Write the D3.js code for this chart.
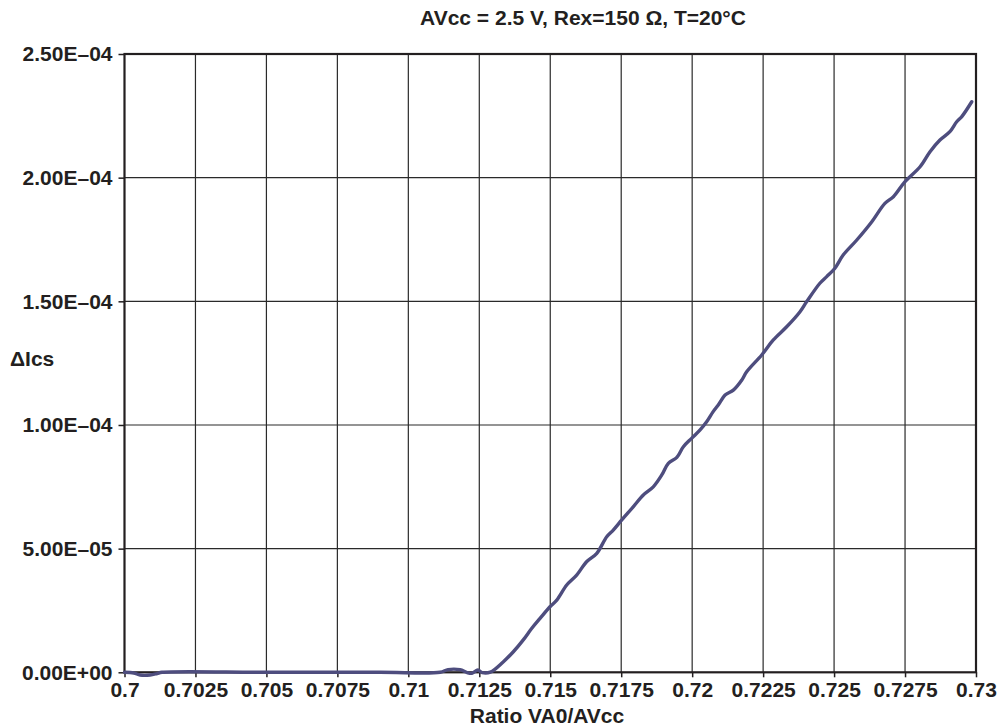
<!DOCTYPE html>
<html><head><meta charset="utf-8">
<script src="https://cdn.jsdelivr.net/npm/d3@7"></script>
<style>body{margin:0;background:#fff}svg{display:block}text{font-family:"Liberation Sans",Arial,sans-serif;font-weight:bold;fill:#231f20}</style>
</head><body><svg id="c" width="1003" height="728"></svg>
<script>
const titleText = "AVcc = 2.5 V, Rex=150 \u03A9, T=20\u00B0C";
const xLabel = "Ratio VA0/AVcc";
const yLabel = "\u0394Ics";
const xTicks = [0.7,0.7025,0.705,0.7075,0.71,0.7125,0.715,0.7175,0.72,0.7225,0.725,0.7275,0.73];
const xTickLabels = ["0.7","0.7025","0.705","0.7075","0.71","0.7125","0.715","0.7175","0.72","0.7225","0.725","0.7275","0.73"];
const yTicks = [0,5e-5,1e-4,1.5e-4,2e-4,2.5e-4];
const yTickLabels = ["0.00E+00","5.00E\u201305","1.00E\u201304","1.50E\u201304","2.00E\u201304","2.50E\u201304"];
const ratio = [0.7000,0.70033,0.70055,0.70090,0.70115,0.70132,0.7050,0.7090,0.71112,0.71140,0.71182,0.71207,0.71224,0.71245,0.71260,0.71289,
0.71335,0.71370,0.71405,0.71435,0.71464,0.71499,0.71523,0.71558,0.71593,0.71628,0.71664,0.71699,0.71722,0.71752,0.71793,0.71828,0.71863,0.71893,0.71916,0.71946,0.71969,0.71998,
0.72028,0.72051,0.72074,0.72092,0.72116,0.72145,0.72175,0.72192,0.72245,0.72286,0.72333,0.72380,0.72403,0.72450,0.72474,0.72503,0.72532,0.72580,0.72633,0.72679,0.72709,0.72750,
0.72803,0.72838,0.72873,0.72908,0.72932,0.72950,0.72985];
const dIcs = [0,-3e-7,-1.1e-6,-1.1e-6,-5e-7,0,0,0,0,1.1e-6,1.05e-6,-1e-7,-4e-7,9e-7,-1e-7,1e-7,
4.3e-6,8.3e-6,1.31e-5,1.78e-5,2.18e-5,2.65e-5,2.92e-5,3.53e-5,3.93e-5,4.47e-5,4.81e-5,5.48e-5,5.75e-5,6.16e-5,6.70e-5,7.17e-5,7.50e-5,7.98e-5,8.45e-5,8.69e-5,9.12e-5,9.46e-5,
9.80e-5,1.013e-4,1.054e-4,1.081e-4,1.121e-4,1.141e-4,1.182e-4,1.215e-4,1.283e-4,1.344e-4,1.397e-4,1.458e-4,1.498e-4,1.573e-4,1.600e-4,1.634e-4,1.687e-4,1.748e-4,1.822e-4,1.896e-4,1.923e-4,1.984e-4,
2.044e-4,2.105e-4,2.152e-4,2.186e-4,2.226e-4,2.247e-4,2.307e-4];

const L=124.5,R=976,T=54,B=672.3;
const FS=21;
const svg=d3.select("#c");
const x=d3.scaleLinear().domain([0.7,0.73]).range([L,R]);
const y=d3.scaleLinear().domain([0,2.5e-4]).range([B,T]);

// grid
svg.append("g").selectAll("line").data(xTicks.slice(1,-1)).join("line")
 .attr("x1",d=>x(d)).attr("x2",d=>x(d)).attr("y1",T).attr("y2",B)
 .attr("stroke","#2a2a2a").attr("stroke-width",1.2);
svg.append("g").selectAll("line").data(yTicks.slice(1,-1)).join("line")
 .attr("x1",L).attr("x2",R).attr("y1",d=>y(d)).attr("y2",d=>y(d))
 .attr("stroke","#2a2a2a").attr("stroke-width",1.2);

// axes
const xa=svg.append("g").attr("transform",`translate(0,${B})`)
 .call(d3.axisBottom(x).tickValues(xTicks).tickFormat((d,i)=>xTickLabels[i]).tickSize(5).tickPadding(5));
const ya=svg.append("g").attr("transform",`translate(${L},0)`)
 .call(d3.axisLeft(y).tickValues(yTicks).tickFormat((d,i)=>yTickLabels[i]).tickSize(6).tickPadding(6));
[xa,ya].forEach(a=>{a.select(".domain").remove();a.selectAll("line").attr("stroke","#231f20").attr("stroke-width",1.5);
 a.selectAll("text").attr("font-size",FS).attr("font-family","Liberation Sans, Arial, sans-serif").attr("font-weight","bold").attr("fill","#231f20");});

// frame
svg.append("rect").attr("x",L).attr("y",T).attr("width",R-L).attr("height",B-T)
 .attr("fill","none").attr("stroke","#231f20").attr("stroke-width",2.2);

// curve
svg.append("path").datum(ratio.map((r,i)=>[r,dIcs[i]]))
 .attr("d",d3.line().x(d=>x(d[0])).y(d=>y(d[1])).curve(d3.curveCatmullRom))
 .attr("fill","none").attr("stroke","#4e4d7e").attr("stroke-width",3.4).attr("stroke-linejoin","round").attr("stroke-linecap","round");

svg.append("text").attr("x",583).attr("y",25).attr("text-anchor","middle").attr("font-size",FS).text(titleText);
svg.append("text").attr("x",547).attr("y",723).attr("text-anchor","middle").attr("font-size",FS).text(xLabel);
svg.append("text").attr("x",10).attr("y",366).attr("font-size",FS).text(yLabel);
</script></body></html>
